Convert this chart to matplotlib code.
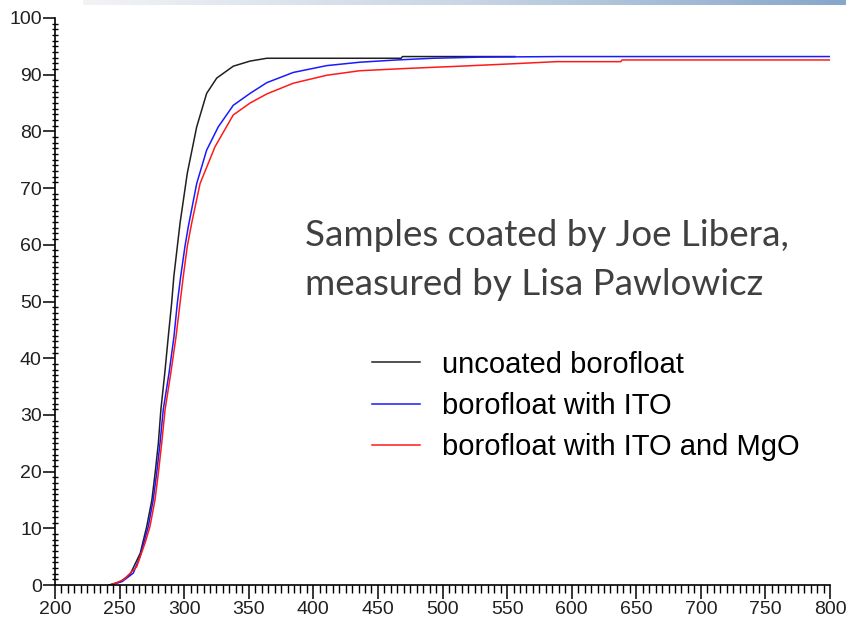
import numpy as np
import matplotlib.pyplot as plt
from matplotlib.colors import LinearSegmentedColormap
from matplotlib.ticker import MultipleLocator

# Transmission spectra (wavelength in nm, transmission in %)
wl_uncoated = [242, 250, 258, 266, 271, 275, 277.5, 280, 282, 285, 287.7, 290.3, 292,
               294.7, 296.8, 302.4, 309.7, 317.4, 325.2, 338, 351, 364, 400, 468, 469, 556]
tr_uncoated = [0, 0.5, 1.8, 5.6, 10.3, 15, 19.7, 25, 31, 37.4, 43.8, 49.7, 54.4,
               59.7, 63.8, 72.6, 80.8, 86.7, 89.4, 91.5, 92.4, 92.9, 92.9, 92.9, 93.2, 93.2]

wl_ito = [242, 252, 260.6, 265.8, 272.2, 276, 278.7, 281.3, 283.8, 288.3, 292.1, 294.7,
          297.3, 300.6, 303.2, 309.7, 317.4, 326.4, 338, 351, 364, 384.5, 410.3, 436,
          464.5, 492.8, 530, 591, 800]
tr_ito = [0, 0.6, 2.1, 5, 10.3, 15, 19.7, 25, 30.9, 37.4, 43.8, 49.7,
          54.4, 59.7, 63.2, 70.8, 76.7, 80.8, 84.6, 86.7, 88.6, 90.4, 91.6, 92.2,
          92.6, 92.9, 93.1, 93.2, 93.2]

wl_ito_mgo = [243, 252.9, 263.2, 269.7, 273.5, 277.4, 280, 282.6, 285.2, 289.6, 293.7,
              296.8, 299.3, 302.4, 305.8, 312.3, 323.9, 338, 351, 363.9, 384.5, 410.3,
              436, 472, 513.5, 552, 588, 638, 639, 800]
tr_ito_mgo = [0, 0.9, 3.2, 7.4, 10.3, 15, 19.7, 25, 30.9, 37.3, 43.8,
              49.7, 54.4, 59.7, 63.8, 70.8, 77.3, 82.9, 85, 86.6, 88.5, 89.9,
              90.7, 91.1, 91.5, 91.9, 92.3, 92.3, 92.6, 92.6]

labels = ['uncoated borofloat', 'borofloat with ITO', 'borofloat with ITO and MgO']
colors = ['#202020', '#1a1aff', '#ff1a1a']

W, H = 846, 629
fig = plt.figure(figsize=(W / 100, H / 100), dpi=100)
fig.patch.set_facecolor('white')

# slide header strip
band = fig.add_axes([83 / W, 1 - 5 / H, 1 - 83 / W, 5 / H])
grad = np.linspace(0, 1, 256)[None, :]
cmap = LinearSegmentedColormap.from_list('hdr', ['#f2f3f5', '#c9d6e5', '#86a6ca'])
band.imshow(grad, aspect='auto', cmap=cmap, extent=[0, 1, 0, 1])
band.set_axis_off()

ax = fig.add_axes([55 / W, 1 - 585 / H, (830 - 55) / W, (585 - 18) / H])
for wl, tr, lab, col in zip([wl_uncoated, wl_ito, wl_ito_mgo],
                            [tr_uncoated, tr_ito, tr_ito_mgo], labels, colors):
    ax.plot(wl, tr, color=col, lw=1.1, label=lab)

ax.set_xlim(200, 800)
ax.set_ylim(0, 100)
for s in ['top', 'right']:
    ax.spines[s].set_visible(False)
for s in ['left', 'bottom']:
    ax.spines[s].set_linewidth(1.2)
    ax.spines[s].set_color('black')

ax.xaxis.set_major_locator(MultipleLocator(50))
ax.xaxis.set_minor_locator(MultipleLocator(5))
ax.yaxis.set_major_locator(MultipleLocator(10))
ax.yaxis.set_minor_locator(MultipleLocator(1))
ax.tick_params(which='both', labelsize=14, labelfontfamily='Liberation Sans',
               labelcolor='#202020')
ax.tick_params(axis='x', which='major', length=10, width=1.1, direction='out', pad=1.5)
ax.tick_params(axis='x', which='minor', length=5.5, width=1.0, direction='out')
ax.tick_params(axis='y', which='major', length=9, width=1.1, direction='out', pad=0.5)
ax.tick_params(axis='y', which='minor', length=4.5, width=1.0, direction='inout')

fig.text(305 / W, 1 - 236 / H, 'Samples coated by Joe Libera,', fontsize=26.5,
         family='Lato', color='#404040', va='center', ha='left')
fig.text(305 / W, 1 - 284 / H, 'measured by Lisa Pawlowicz', fontsize=26.5,
         family='Lato', color='#404040', va='center', ha='left')

ax.legend(loc='upper left', bbox_to_anchor=(360 / W, 1 - 339 / H),
          bbox_transform=fig.transFigure, frameon=False,
          prop={'family': 'Liberation Sans', 'size': 21},
          handlelength=1.65, handletextpad=0.75, labelspacing=0.46, borderaxespad=0)

fig.savefig('out.png', dpi=100)
